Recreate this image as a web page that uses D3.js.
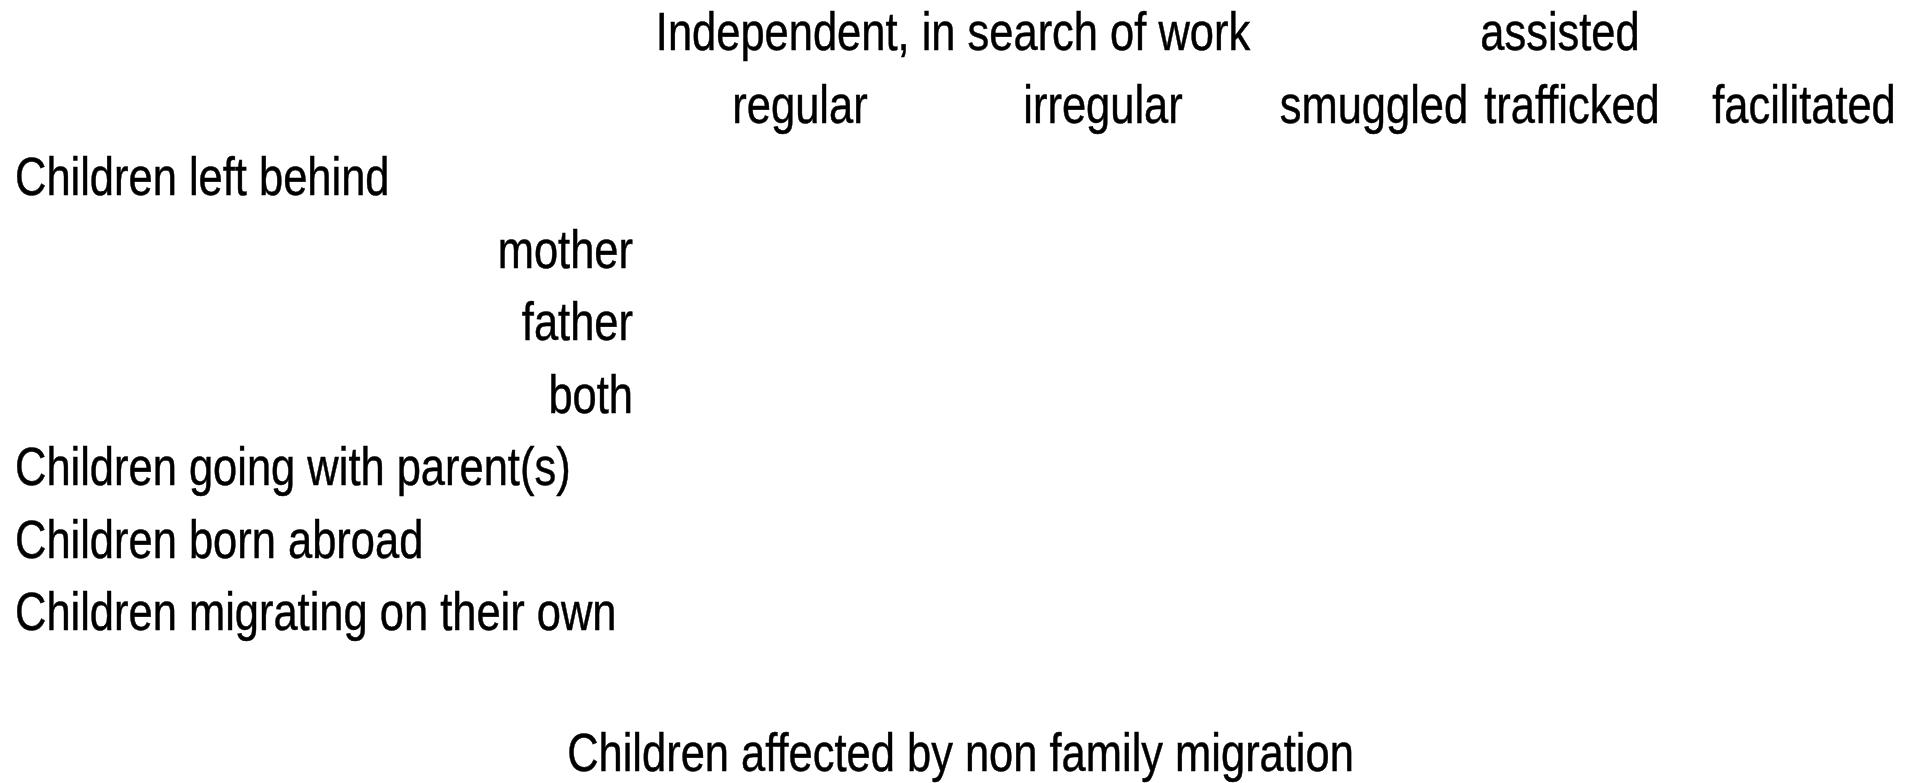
<!DOCTYPE html>
<html>
<head>
<meta charset="utf-8">
<script src="https://cdn.jsdelivr.net/npm/d3@7/dist/d3.min.js"></script>
<style>
  html, body { margin: 0; padding: 0; background: #ffffff; }
  svg { display: block; }
  text { font-family: 'Liberation Sans Narrow', 'Arial Narrow', sans-serif; fill: #000; stroke: #000; stroke-width: 0.5px; }
</style>
</head>
<body>
<svg id="chart" width="1921" height="783"></svg>
<script>
// ---- data ----
const headerGroups = ["Independent, in search of work", "assisted"];
const columns = ["regular", "irregular", "smuggled", "trafficked", "facilitated"];
const rowLabels = ["Children left behind", "mother", "father", "both",
  "Children going with parent(s)", "Children born abroad", "Children migrating on their own"];
const rowLevels = [0, 1, 1, 1, 0, 0, 0];
const footerTitle = "Children affected by non family migration";

// ---- layout ----
const W = 1921, H = 783;
const fontSize = 53;
const svg = d3.select("#chart");

// row index: 0 = group header, 1 = column header, 2..8 = rows
const y = d3.scaleLinear().domain([0, 8]).range([50, 630]);
const footerBaseline = H - 12;
const colX = d3.scaleOrdinal().domain(columns).range([800, 1103, 1374, 1572, 1804]);
const groupX = d3.scaleOrdinal().domain(headerGroups).range([953, 1560]);
const labelLeft = 15, subRight = 633;

svg.append("g").selectAll("text").data(headerGroups).join("text")
  .attr("x", d => groupX(d)).attr("y", y(0))
  .attr("text-anchor", "middle").attr("font-size", fontSize).text(d => d);

svg.append("g").selectAll("text").data(columns).join("text")
  .attr("x", d => colX(d)).attr("y", y(1))
  .attr("text-anchor", "middle").attr("font-size", fontSize).text(d => d);

svg.append("g").selectAll("text").data(rowLabels).join("text")
  .attr("x", (d, i) => rowLevels[i] ? subRight : labelLeft)
  .attr("y", (d, i) => y(2 + i))
  .attr("text-anchor", (d, i) => rowLevels[i] ? "end" : "start")
  .attr("font-size", fontSize).text(d => d);

svg.append("text").attr("x", W / 2).attr("y", footerBaseline)
  .attr("text-anchor", "middle").attr("font-size", fontSize).text(footerTitle);

// fallback: if the narrow face is missing, compress glyphs horizontally
(function () {
  const c = document.createElement("canvas").getContext("2d");
  c.font = "50px 'Liberation Sans Narrow', monospace";
  const a = c.measureText("Children migrating").width;
  c.font = "50px monospace";
  const b = c.measureText("Children migrating").width;
  if (Math.abs(a - b) < 0.5) {
    svg.selectAll("text").each(function () {
      const t = d3.select(this).style("font-family", "'Liberation Sans', Arial, sans-serif");
      const w = this.getComputedTextLength();
      t.attr("textLength", w * 0.82).attr("lengthAdjust", "spacingAndGlyphs");
    });
  }
})();
</script>
</body>
</html>
